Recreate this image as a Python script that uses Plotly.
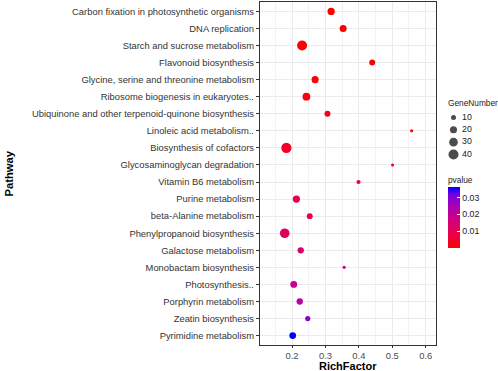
import numpy as np
import plotly.graph_objects as go

# ---------------- data ----------------
pathways = [
    "Carbon fixation in photosynthetic organisms",
    "DNA replication",
    "Starch and sucrose metabolism",
    "Flavonoid biosynthesis",
    "Glycine, serine and threonine metabolism",
    "Ribosome biogenesis in eukaryotes..",
    "Ubiquinone and other terpenoid-quinone biosynthesis",
    "Linoleic acid metabolism..",
    "Biosynthesis of cofactors",
    "Glycosaminoglycan degradation",
    "Vitamin B6 metabolism",
    "Purine metabolism",
    "beta-Alanine metabolism",
    "Phenylpropanoid biosynthesis",
    "Galactose metabolism",
    "Monobactam biosynthesis",
    "Photosynthesis..",
    "Porphyrin metabolism",
    "Zeatin biosynthesis",
    "Pyrimidine metabolism",
]
rich_factor = [0.317, 0.353, 0.230, 0.440, 0.269, 0.243, 0.306, 0.558, 0.183, 0.501,
               0.399, 0.213, 0.253, 0.178, 0.226, 0.356, 0.205, 0.223, 0.247, 0.202]
gene_number = [21, 20, 40, 14, 20, 24, 14, 4, 42, 4,
               7, 21, 14, 37, 16, 4, 19, 16, 11, 18]
pvalue = [0.0002, 0.0006, 0.0009, 0.0013, 0.0018, 0.0023, 0.0028, 0.0033, 0.0045, 0.0050,
          0.0060, 0.0090, 0.0092, 0.0110, 0.0135, 0.0160, 0.0190, 0.0215, 0.0290, 0.0364]
legend_sizes = [10, 20, 30, 40]
x_ticks = [0.2, 0.3, 0.4, 0.5, 0.6]
p_ticks = [0.01, 0.02, 0.03]

W, H = 498, 371
FONT = "Liberation Sans, Arial, sans-serif"
LEG_FONT = 8.3


def diam(n):
    return 1.58 * np.sqrt(np.asarray(n, dtype=float))


colorscale = [[0.0, "#FF0000"], [0.25, "#E8004F"], [0.5, "#CC0088"],
              [0.75, "#9A00C3"], [0.875, "#7300E0"], [1.0, "#0000FF"]]

fig = go.Figure()

fig.add_trace(go.Scatter(
    x=rich_factor, y=pathways, mode="markers", showlegend=False,
    marker=dict(
        size=diam(gene_number), sizemode="diameter", opacity=1,
        color=pvalue, colorscale=colorscale, cmin=min(pvalue), cmax=max(pvalue),
        line=dict(width=0),
        colorbar=dict(
            x=447.7 / W, xanchor="left", y=1 - 217.2 / H, yanchor="middle",
            len=61, lenmode="pixels", thickness=11.6, thicknessmode="pixels",
            outlinewidth=0, xpad=0, ypad=0,
            tickvals=p_ticks, ticktext=[f"{v:.2f}" for v in p_ticks],
            ticks="inside", ticklen=3, tickcolor="white", tickwidth=1,
            tickfont=dict(family=FONT, size=8.8, color="#1A1A1A"),
        ),
    ),
    hoverinfo="skip",
))

# size legend drawn through its own hidden axes
fig.add_trace(go.Scatter(
    x=[0] * len(legend_sizes), y=legend_sizes, mode="markers",
    marker=dict(size=diam(legend_sizes), sizemode="diameter", color="black", line=dict(width=0)),
    xaxis="x2", yaxis="y2", showlegend=False, hoverinfo="skip",
))
fig.add_trace(go.Scatter(
    x=[0.85] * len(legend_sizes), y=legend_sizes, mode="text",
    text=[str(s) for s in legend_sizes], textposition="middle right",
    textfont=dict(family=FONT, size=8.8, color="#1A1A1A"),
    xaxis="x2", yaxis="y2", showlegend=False, hoverinfo="skip",
))

grid = "#EBEBEB"
fig.update_layout(
    width=W, height=H, margin=dict(l=0, r=0, t=0, b=0),
    paper_bgcolor="white", plot_bgcolor="white",
    font=dict(family=FONT, color="#4D4D4D"),
    xaxis=dict(
        domain=[260 / W, 436 / W], range=[0.104, 0.631],
        tickvals=x_ticks, ticktext=[f"{v:.1f}" for v in x_ticks],
        ticks="outside", ticklen=2, tickcolor="#333333", tickwidth=1,
        tickfont=dict(family=FONT, size=9.4, color="#4D4D4D"),
        showgrid=True, gridcolor=grid, gridwidth=1.1,
        minor=dict(dtick=0.05, tick0=0, showgrid=True, gridcolor="#F2F2F2", gridwidth=0.7),
        showline=True, mirror=True, linecolor="#333333", linewidth=1.3,
        zeroline=False, anchor="y",
    ),
    yaxis=dict(
        domain=[1 - 345 / H, 1 - 2 / H], type="category",
        categoryorder="array", categoryarray=pathways,
        range=[len(pathways) - 1 + 0.55, -0.55],
        ticks="outside", ticklen=3, tickcolor="#333333", tickwidth=1,
        tickfont=dict(family=FONT, size=9.4, color="#333333"),
        showgrid=True, gridcolor=grid, gridwidth=1.1,
        showline=True, mirror=True, linecolor="#333333", linewidth=1.3,
        zeroline=False, anchor="x",
    ),
    xaxis2=dict(domain=[442 / W, 1.0], range=[-1.15, 4.45], visible=False, anchor="y2"),
    yaxis2=dict(domain=[1 - 160 / H, 1 - 100 / H], range=[44.46, -4.19], visible=False, anchor="x2"),
    annotations=[
        dict(text="<b>RichFactor</b>", x=348 / W, y=1 - 365.5 / H, xref="paper", yref="paper",
             showarrow=False, xanchor="center", yanchor="middle", borderpad=0,
             font=dict(family=FONT, size=11, color="black")),
        dict(text="<b>Pathway</b>", x=8 / W, y=1 - 173.5 / H, xref="paper", yref="paper",
             showarrow=False, xanchor="center", yanchor="middle", textangle=-90,
             font=dict(family=FONT, size=11.2, color="black")),
        dict(text="GeneNumber", x=445.5 / W, y=1 - 103.3 / H, xref="paper", yref="paper",
             showarrow=False, xanchor="left", yanchor="middle",
             font=dict(family=FONT, size=LEG_FONT, color="#1A1A1A")),
        dict(text="pvalue", x=445.5 / W, y=1 - 180 / H, xref="paper", yref="paper",
             showarrow=False, xanchor="left", yanchor="middle",
             font=dict(family=FONT, size=LEG_FONT, color="#1A1A1A")),
    ],
)

fig.write_html(
    "out.html",
    config={"displayModeBar": False},
    post_script="document.body.style.margin='0';document.body.style.overflow='hidden';",
)
